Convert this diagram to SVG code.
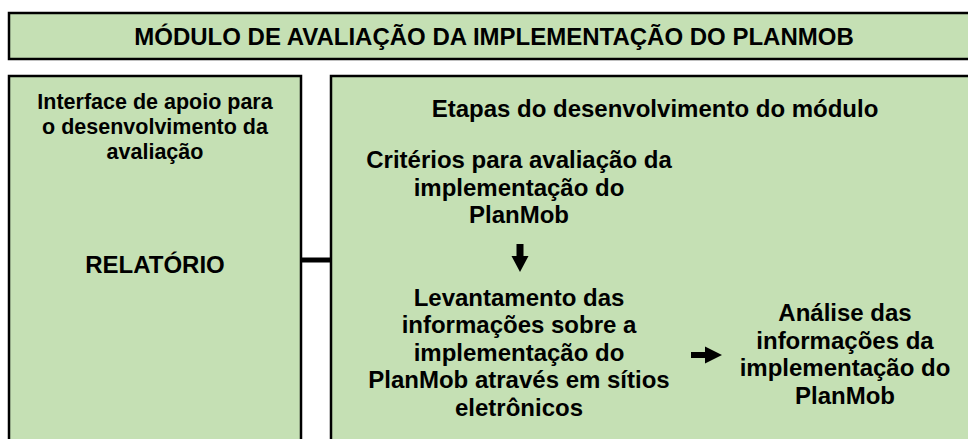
<svg xmlns="http://www.w3.org/2000/svg" width="968" height="439" viewBox="0 0 968 439">
<style>
.box{fill:#c5e0b4;stroke:#000;stroke-width:2.5}
.t{font-family:"Liberation Sans",Arial,sans-serif;font-weight:bold;fill:#000;text-anchor:middle}
.t24{font-size:24px}
.t21{font-size:21.5px}
.arr{fill:#000;stroke:none}
</style>
<rect x="0" y="0" width="968" height="439" fill="#fff"/>
<g id="title">
<rect class="box" x="9" y="13" width="980" height="46"/>
<text class="t t24" x="494" y="45">MÓDULO DE AVALIAÇÃO DA IMPLEMENTAÇÃO DO PLANMOB</text>
</g>
<g id="interface">
<rect class="box" x="9" y="76" width="292" height="380"/>
<text class="t t21" x="155" y="109">Interface de apoio para</text>
<text class="t t21" x="155" y="134">o desenvolvimento da</text>
<text class="t t21" x="155" y="158.5">avaliação</text>
<text class="t t24" x="155" y="273">RELATÓRIO</text>
</g>
<g id="etapas">
<rect class="box" x="331" y="76" width="660" height="380"/>
<text class="t t24" x="655" y="117">Etapas do desenvolvimento do módulo</text>
</g>
<g id="criterios">
<text class="t t24" x="519" y="168">Critérios para avaliação da</text>
<text class="t t24" x="519" y="195.5">implementação do</text>
<text class="t t24" x="519" y="223">PlanMob</text>
</g>
<g id="levantamento">
<text class="t t24" x="519" y="305.5">Levantamento das</text>
<text class="t t24" x="519" y="333">informações sobre a</text>
<text class="t t24" x="519" y="360.5">implementação do</text>
<text class="t t24" x="519" y="388">PlanMob através em sítios</text>
<text class="t t24" x="519" y="415.5">eletrônicos</text>
</g>
<g id="analise">
<text class="t t24" x="845" y="321">Análise das</text>
<text class="t t24" x="845" y="348.5">informações da</text>
<text class="t t24" x="845" y="376">implementação do</text>
<text class="t t24" x="845" y="403.5">PlanMob</text>
</g>
<g id="connectors">
<line x1="301" y1="260" x2="331" y2="260" stroke="#000" stroke-width="5"/>
<polygon class="arr" points="516.5,244 523.5,244 523.5,256 528.5,256 520,272 511.5,256 516.5,256"/>
<polygon class="arr" points="691,352 705,352 705,346.5 722,355 705,363.5 705,358 691,358"/>
</g>
</svg>
